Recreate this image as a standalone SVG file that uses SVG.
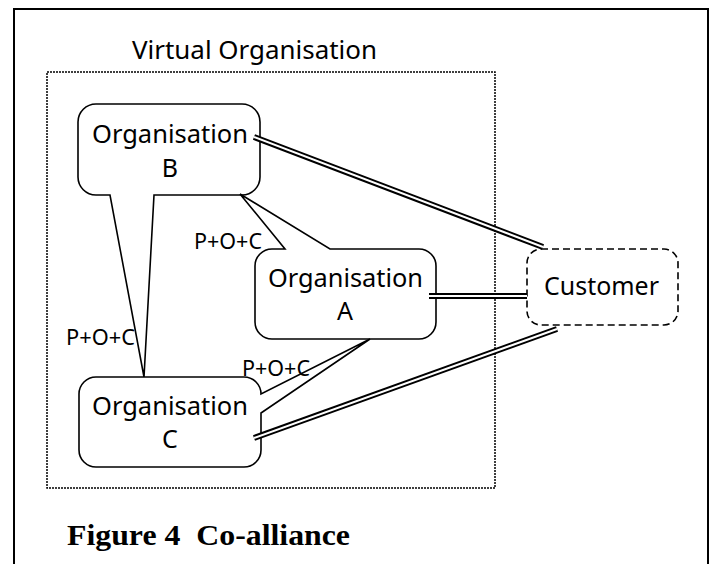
<svg xmlns="http://www.w3.org/2000/svg" width="714" height="564" viewBox="0 0 714 564">
<style>
  .txt { font-family: "Noto Sans", "DejaVu Sans", sans-serif; font-size: 25px; fill: #000; }
  .lbl { font-family: "Noto Sans", "DejaVu Sans", sans-serif; font-size: 22px; fill: #000; }
  .callout { fill: #fff; stroke: #000; stroke-width: 1.6; stroke-linejoin: miter; }
  .dbl-outer { stroke: #000; stroke-width: 6; fill: none; }
  .dbl-inner { stroke: #fff; stroke-width: 2; fill: none; }
  .caption { font-family: "Liberation Serif", "Times New Roman", serif; font-weight: bold; font-size: 30px; fill: #000; white-space: pre; }
</style>
<rect width="714" height="564" fill="#fff"/>
<!-- outer frame -->
<path d="M14,570 V9 H708 V570" fill="none" stroke="#000" stroke-width="2"/>
<!-- virtual organisation boundary -->
<rect x="47" y="72" width="448" height="416" fill="none" stroke="#000" stroke-width="1.5" stroke-dasharray="2 1"/>
<text class="txt" x="132" y="59" textLength="245" lengthAdjust="spacingAndGlyphs">Virtual Organisation</text>

<g id="org-b">
  <path class="callout" d="M96,104 H242 A18,18 0 0 1 260,122 V177 A18,18 0 0 1 242,195 H154 L144,377 L110,195 H96 A18,18 0 0 1 78,177 V122 A18,18 0 0 1 96,104 Z"/>
  <text class="txt" x="92" y="143" textLength="156" lengthAdjust="spacingAndGlyphs">Organisation</text>
  <text class="txt" x="170" y="177" text-anchor="middle">B</text>
</g>
<g id="org-a">
  <path class="callout" d="M272,249 H285 L240,194 L330,249 H419 A17,17 0 0 1 436,266 V322 A17,17 0 0 1 419,339 H272 A17,17 0 0 1 255,322 V266 A17,17 0 0 1 272,249 Z"/>
  <text class="txt" x="268" y="287" textLength="155" lengthAdjust="spacingAndGlyphs">Organisation</text>
  <text class="txt" x="345" y="320" text-anchor="middle">A</text>
</g>
<g id="org-c">
  <path class="callout" d="M96,377 H244 A17,17 0 0 1 261,394 L370,339 L261,413 V450 A17,17 0 0 1 244,467 H96 A17,17 0 0 1 79,450 V394 A17,17 0 0 1 96,377 Z"/>
  <text class="txt" x="92" y="415" textLength="156" lengthAdjust="spacingAndGlyphs">Organisation</text>
  <text class="txt" x="170" y="448" text-anchor="middle">C</text>
</g>
<g id="customer">
  <rect x="527" y="249" width="151" height="76" rx="14" ry="14" fill="#fff" stroke="#000" stroke-width="1.6" stroke-dasharray="7 4"/>
  <text class="txt" x="544" y="295" textLength="115" lengthAdjust="spacingAndGlyphs">Customer</text>
</g>

<g id="connectors">
  <line class="dbl-outer" x1="254" y1="137" x2="543" y2="247"/>
  <line class="dbl-inner" x1="254" y1="137" x2="543" y2="247"/>
  <line class="dbl-outer" x1="429" y1="296" x2="527" y2="296"/>
  <line class="dbl-inner" x1="429" y1="296" x2="527" y2="296"/>
  <line class="dbl-outer" x1="254" y1="438" x2="557" y2="329"/>
  <line class="dbl-inner" x1="254" y1="438" x2="557" y2="329"/>
</g>

<g id="tail-labels">
  <text class="lbl" x="194" y="249" textLength="68" lengthAdjust="spacingAndGlyphs">P+O+C</text>
  <text class="lbl" x="66" y="345" textLength="69" lengthAdjust="spacingAndGlyphs">P+O+C</text>
  <text class="lbl" x="242" y="376" textLength="68" lengthAdjust="spacingAndGlyphs">P+O+C</text>
</g>

<text class="caption" x="67" y="545" textLength="283" lengthAdjust="spacingAndGlyphs">Figure 4  Co-alliance</text>
</svg>
